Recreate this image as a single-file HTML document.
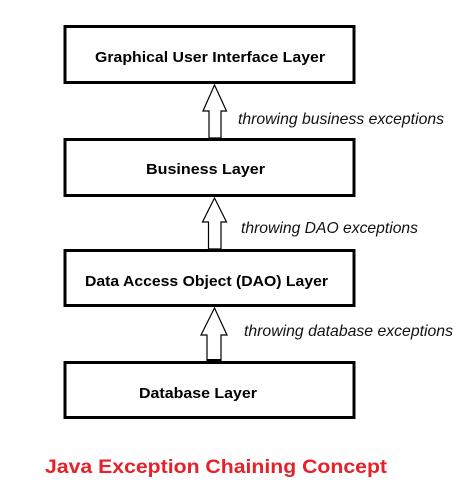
<!DOCTYPE html>
<html><head><style>
html,body{margin:0;padding:0;background:#fff;width:473px;height:493px;overflow:hidden}
svg{display:block}
.b{font-family:"Liberation Sans",Arial,sans-serif;font-weight:bold;font-size:15px;fill:#000}
.i{font-family:"Liberation Sans",Arial,sans-serif;font-style:italic;font-size:16px;fill:#111}
</style></head><body>
<svg width="473" height="493" viewBox="0 0 473 493">
<g fill="#fff" stroke="#000" stroke-width="3">
<rect x="65" y="26.5" width="289" height="56"/>
<rect x="65" y="139.5" width="289" height="56"/>
<rect x="65" y="250.5" width="289" height="55"/>
<rect x="65" y="362.5" width="289" height="55"/>
</g>
<g fill="#fff" stroke="#000" stroke-width="1.2">
<polygon points="214.5,85 226.5,111 221,111 221,138 209,138 209,111 203,111"/>
<polygon points="214.5,198 226.5,222 221,222 221,249 208.5,249 208.5,222 202.5,222"/>
<polygon points="214.5,308 227,335 221,335 221,361 207,361 207,335 201,335"/>
</g>
<rect x="207" y="359" width="14" height="3" fill="#000"/>
<text class="b" x="95" y="62" textLength="230" lengthAdjust="spacingAndGlyphs">Graphical User Interface Layer</text>
<text class="b" x="146" y="174" textLength="119" lengthAdjust="spacingAndGlyphs">Business Layer</text>
<text class="b" x="85" y="286" textLength="243" lengthAdjust="spacingAndGlyphs">Data Access Object (DAO) Layer</text>
<text class="b" x="139" y="398" textLength="118" lengthAdjust="spacingAndGlyphs">Database Layer</text>
<text class="i" x="238" y="124" textLength="206" lengthAdjust="spacingAndGlyphs">throwing business exceptions</text>
<text class="i" x="241" y="233" textLength="177" lengthAdjust="spacingAndGlyphs">throwing DAO exceptions</text>
<text class="i" x="244" y="336" textLength="209" lengthAdjust="spacingAndGlyphs">throwing database exceptions</text>
<text x="45" y="473" font-family="Liberation Sans,Arial,sans-serif" font-weight="bold" font-size="19px" fill="#e8202a" textLength="342" lengthAdjust="spacingAndGlyphs">Java Exception Chaining Concept</text>
</svg>
</body></html>
